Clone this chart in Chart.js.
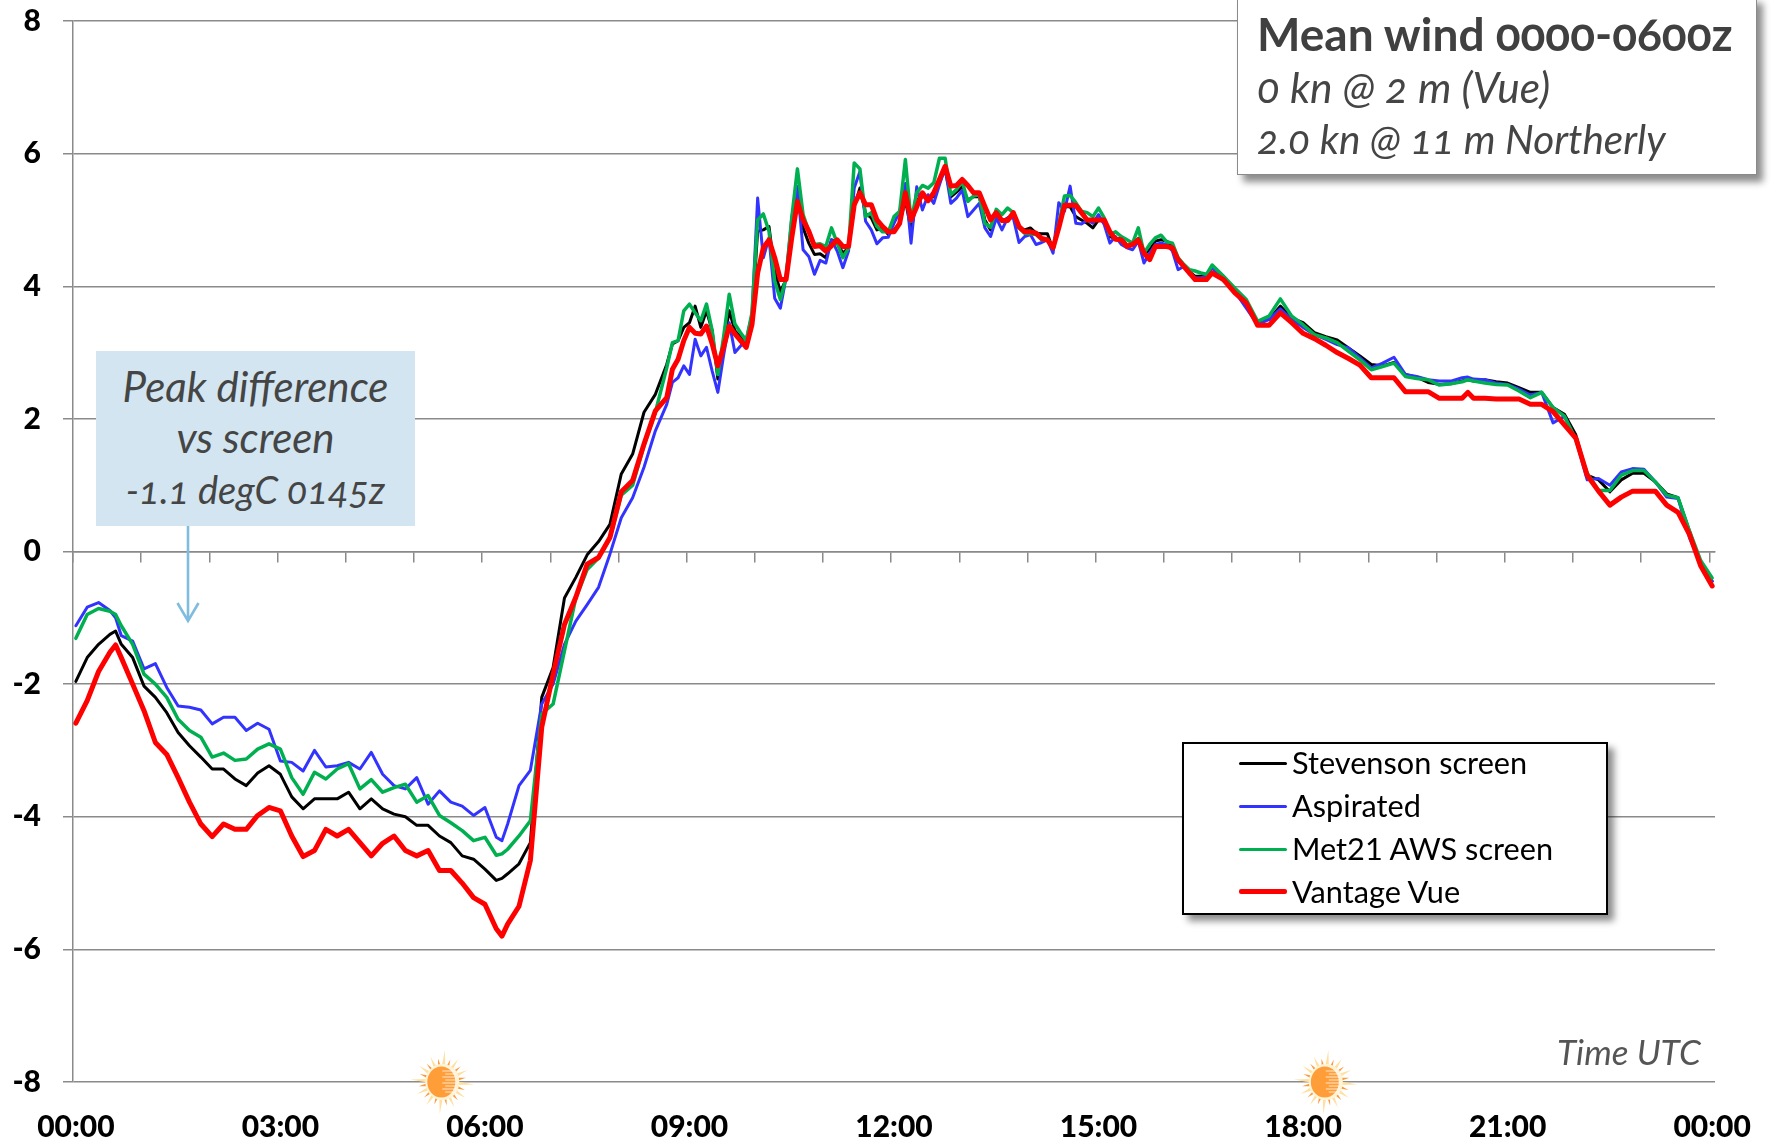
<!DOCTYPE html>
<html><head><meta charset="utf-8">
<script src="https://cdn.jsdelivr.net/npm/chart.js@4"></script>
<style>
html,body{margin:0;padding:0;background:#fff;overflow:hidden}
#wrap{position:relative;width:1774px;height:1143px;font-family:Lato,"Noto Sans",sans-serif}
canvas{position:absolute;left:0;top:0}
.t{position:absolute;white-space:nowrap;font-variant-numeric:oldstyle-nums;font-feature-settings:"onum" 1}
#titleBox{position:absolute;left:1237px;top:-4px;width:520px;height:179px;background:#fff;border:1.5px solid #8a8a8a;box-sizing:border-box;box-shadow:6px 7px 7px rgba(0,0,0,.45)}
#noteBox{position:absolute;left:96px;top:351px;width:319px;height:175px;background:#D2E5F1}
#legendBox{position:absolute;left:1182px;top:742px;width:426px;height:173px;background:#fff;border:2px solid #000;box-sizing:border-box;box-shadow:6px 6px 7px rgba(0,0,0,.45)}
.lg{position:absolute;left:1239px;width:48px;border-radius:2px}
.lt{position:absolute;left:1292px;font-size:30.7px;color:#000;white-space:nowrap;line-height:36px;font-family:Lato,sans-serif}
</style></head>
<body><div id="wrap">
<canvas id="c" width="1774" height="1143"></canvas>
<div id="noteBox"></div>
<svg style="position:absolute;left:170px;top:524px" width="36" height="100"><path d="M18 2V97M7.5 79L18 97L28.5 79" fill="none" stroke="#7FBCE0" stroke-width="2.6"/></svg>
<div class="t" style="left:96px;width:319px;text-align:center;top:361px;line-height:51px;font-style:italic;color:#454545;font-size:42px" id="noteText"></div>
<div id="titleBox"></div>
<div class="t" style="left:1257px;top:9px;font-size:46px;line-height:50px;font-weight:700;color:#404040" id="t1"></div>
<div class="t" style="left:1257px;top:62px;font-size:42.5px;line-height:50px;font-style:italic;color:#454545" id="t2"></div>
<div class="t" style="left:1257px;top:114px;font-size:40.5px;line-height:50px;font-style:italic;color:#454545" id="t3"></div>
<div class="t" style="left:1557px;top:1029px;font-size:35px;line-height:44px;font-style:italic;color:#555" id="axisNote"></div>
<div id="legendBox"></div>
<div id="legendItems"></div>
</div>
<script>
const seriesNames = ["Stevenson screen","Aspirated","Met21 AWS screen","Vantage Vue"];
const tickLabels = ["00:00","03:00","06:00","09:00","12:00","15:00","18:00","21:00","00:00"];
const yTicks = [-8,-6,-4,-2,0,2,4,6,8];
const titleLines = ["Mean wind 0000-0600z","0 kn @ 2 m (Vue)","2.0 kn @ 11 m Northerly"];
const noteLines = ["Peak difference","vs screen","-1.1 degC 0145z"];
const axisNote = "Time UTC";
const sunSteps = [64.5, 220];
// sample numbers, in 5-minute steps from 00:00
const sampleSteps = [
0,2,4,6,7,8,10,12,14,16,18,20,22,24,26,28,30,32,34,36,38,40,42,44,46,48,50,52,54,56,58,60,62,64,66,68,70,72,74,75,76,78,80,82,84,86,88,90,92,94,96,98,100,102,104,
105,106,107,108,109,110,111,112,113,114,115,116,117,118,119,
120,121,122,123,124,125,126,127,128,129,130,131,132,133,134,135,136,137,138,139,140,141,142,143,144,145,146,147,148,149,150,151,152,153,154,155,156,157,158,159,160,161,162,
163,164,165,166,167,168,169,170,171,172,173,174,175,176,177,178,179,180,181,182,183,184,185,186,187,188,189,190,191,192,193,194,195,196,197,198,199,200,
202,204,206,
208,210,212,214,216,218,220,222,224,226,228,230,232,234,236,238,240,242,244,245,246,248,250,
252,254,256,258,260,262,264,266,268,270,272,274,276,278,280,282,284,286,288];
const stevenson = [
-1.96,-1.6,-1.4,-1.25,-1.2,-1.4,-1.6,-2.03,-2.2,-2.43,-2.73,-2.93,-3.1,-3.28,-3.28,-3.43,-3.53,-3.34,-3.23,-3.36,-3.7,-3.88,-3.73,-3.73,-3.73,-3.63,-3.88,-3.73,-3.88,-3.96,-4.0,-4.13,-4.13,-4.29,-4.39,-4.59,-4.64,-4.79,-4.96,-4.93,-4.86,-4.71,-4.39,-2.2,-1.75,-0.7,-0.39,-0.05,0.15,0.41,1.17,1.47,2.1,2.37,2.82,
3.13,3.18,3.38,3.45,3.7,3.38,3.63,3.33,2.6,3.13,3.63,3.33,3.23,3.18,3.5,
4.83,4.85,4.9,4.23,3.92,4.1,4.9,5.5,4.88,4.65,4.48,4.49,4.43,4.7,4.65,4.5,4.58,5.2,5.48,5.1,5.03,4.85,4.88,4.78,4.85,4.95,5.3,4.85,5.3,5.35,5.35,5.35,5.6,5.75,5.35,5.42,5.5,5.3,5.35,5.35,5.0,4.85,5.05,
4.98,5.03,5.08,4.88,4.85,4.88,4.8,4.79,4.79,4.55,4.9,5.2,5.2,5.05,5.0,4.95,4.88,5.0,4.98,4.75,4.72,4.72,4.62,4.62,4.72,4.48,4.55,4.68,4.7,4.68,4.6,4.38,4.3,4.22,4.15,4.15,4.17,4.3,
4.15,3.93,3.72,
3.47,3.5,3.7,3.52,3.45,3.3,3.24,3.19,3.07,2.95,2.82,2.8,2.85,2.67,2.63,2.55,2.52,2.53,2.57,2.59,2.57,2.59,2.56,
2.54,2.47,2.4,2.4,2.17,2.07,1.76,1.15,1.08,0.9,1.08,1.18,1.18,1.05,0.87,0.81,0.31,-0.19,-0.45];
const aspirated = [
-1.12,-0.84,-0.77,-0.89,-1.0,-1.27,-1.35,-1.77,-1.69,-2.05,-2.33,-2.35,-2.39,-2.6,-2.5,-2.5,-2.7,-2.59,-2.68,-3.16,-3.18,-3.31,-3.0,-3.25,-3.23,-3.18,-3.28,-3.03,-3.36,-3.53,-3.58,-3.41,-3.81,-3.61,-3.78,-3.84,-3.98,-3.86,-4.31,-4.36,-4.11,-3.53,-3.3,-2.3,-2.0,-1.4,-1.05,-0.8,-0.54,-0.04,0.51,0.81,1.27,1.82,2.22,
2.55,2.62,2.8,2.67,3.2,2.95,3.08,2.72,2.4,2.95,3.45,3.0,3.1,3.2,3.57,
5.33,4.43,4.73,3.82,3.67,4.13,5.03,5.5,4.55,4.45,4.18,4.39,4.35,4.7,4.53,4.28,4.53,5.48,5.73,4.98,4.85,4.64,4.73,4.74,4.95,5.13,5.55,4.65,5.5,5.15,5.38,5.25,5.53,5.78,5.25,5.33,5.45,5.05,5.15,5.25,4.88,4.75,5.03,
4.85,5.03,5.03,4.66,4.75,4.78,4.63,4.66,4.7,4.5,5.26,5.13,5.51,4.95,4.94,5.0,4.95,5.08,4.93,4.65,4.75,4.63,4.58,4.55,4.68,4.35,4.5,4.63,4.65,4.63,4.53,4.25,4.3,4.18,4.13,4.13,4.15,4.28,
4.08,3.92,3.67,
3.42,3.5,3.66,3.5,3.38,3.27,3.2,3.12,3.07,2.92,2.77,2.84,2.93,2.67,2.64,2.59,2.57,2.57,2.62,2.63,2.6,2.59,2.54,
2.52,2.45,2.36,2.4,1.94,2.04,1.69,1.08,1.1,1.0,1.2,1.25,1.24,1.05,0.82,0.8,0.21,-0.19,-0.45];
const met21 = [
-1.31,-0.95,-0.86,-0.9,-0.95,-1.12,-1.4,-1.85,-2.0,-2.2,-2.53,-2.7,-2.8,-3.1,-3.04,-3.15,-3.13,-2.98,-2.9,-2.98,-3.41,-3.66,-3.33,-3.43,-3.28,-3.2,-3.58,-3.44,-3.63,-3.56,-3.51,-3.78,-3.68,-3.98,-4.09,-4.21,-4.36,-4.31,-4.58,-4.56,-4.49,-4.29,-4.06,-2.45,-2.3,-1.5,-0.7,-0.27,-0.1,0.2,0.85,1.0,1.6,2.1,2.77,
3.15,3.18,3.63,3.73,3.6,3.48,3.73,3.33,2.67,3.23,3.88,3.43,3.3,3.18,3.6,
5.0,5.09,4.83,4.08,3.8,4.13,5.03,5.77,5.08,4.83,4.63,4.64,4.6,4.88,4.65,4.43,4.58,5.86,5.77,5.05,5.11,4.9,4.82,4.82,5.05,5.13,5.91,4.98,5.41,5.52,5.48,5.56,5.93,5.93,5.38,5.46,5.58,5.28,5.36,5.38,4.95,4.89,5.16,
5.08,5.18,5.11,4.88,4.8,4.79,4.78,4.7,4.71,4.58,4.93,5.36,5.37,5.26,5.13,5.11,5.05,5.18,5.03,4.78,4.82,4.75,4.7,4.65,4.88,4.5,4.63,4.73,4.77,4.67,4.65,4.43,4.33,4.25,4.23,4.2,4.18,4.32,
4.15,3.97,3.8,
3.47,3.55,3.81,3.55,3.42,3.27,3.22,3.15,3.02,2.89,2.74,2.79,2.84,2.64,2.61,2.59,2.51,2.53,2.56,2.59,2.57,2.54,2.52,
2.51,2.42,2.32,2.4,2.17,2.04,1.69,1.18,0.92,0.92,1.15,1.22,1.22,1.05,0.85,0.81,0.31,-0.14,-0.4];
const vantageVue = [
-2.59,-2.25,-1.81,-1.52,-1.41,-1.6,-2.0,-2.4,-2.88,-3.06,-3.41,-3.78,-4.11,-4.3,-4.11,-4.19,-4.19,-3.98,-3.86,-3.91,-4.29,-4.6,-4.51,-4.19,-4.29,-4.19,-4.39,-4.59,-4.4,-4.29,-4.51,-4.59,-4.51,-4.81,-4.81,-5.0,-5.22,-5.32,-5.69,-5.8,-5.62,-5.35,-4.66,-2.65,-1.85,-1.1,-0.69,-0.19,-0.09,0.21,0.9,1.07,1.62,2.12,2.32,
2.75,2.9,3.18,3.38,3.29,3.28,3.4,3.13,2.8,3.08,3.4,3.28,3.18,3.08,3.42,
4.2,4.58,4.7,4.43,4.1,4.1,4.73,5.28,5.0,4.83,4.6,4.61,4.53,4.61,4.7,4.6,4.6,5.23,5.41,5.23,5.23,5.0,4.9,4.82,4.82,4.95,5.41,5.0,5.2,5.41,5.29,5.41,5.61,5.81,5.51,5.52,5.61,5.52,5.41,5.41,5.2,5.0,5.11,
4.99,4.99,5.11,4.9,4.82,4.82,4.8,4.72,4.7,4.58,4.88,5.22,5.22,5.22,5.11,5.0,5.0,5.0,5.0,4.82,4.71,4.7,4.6,4.63,4.7,4.5,4.4,4.6,4.6,4.6,4.58,4.4,4.3,4.2,4.1,4.1,4.1,4.2,
4.1,3.9,3.75,
3.41,3.41,3.6,3.45,3.29,3.21,3.11,3.0,2.91,2.81,2.62,2.62,2.62,2.41,2.41,2.41,2.31,2.31,2.31,2.4,2.31,2.31,2.3,
2.3,2.3,2.22,2.22,2.11,1.91,1.71,1.15,0.91,0.7,0.82,0.91,0.91,0.91,0.7,0.59,0.26,-0.22,-0.52];

const seriesValues = [stevenson, aspirated, met21, vantageVue];
const seriesColors = ["#000000","#3333FF","#00B050","#FF0000"];
const seriesWidths = [3,3,3.5,5];
seriesValues.forEach((s,i)=>{ if(s.length!==sampleSteps.length) throw new Error(seriesNames[i]+" has "+s.length+" values, expected "+sampleSteps.length); });

const GRID = "#8A8A8A";
const boldFont = {family:"Lato", size:30, weight:"900"};
const noPad = s => { s.paddingLeft = s.paddingRight = s.paddingTop = s.paddingBottom = 0; };

const sunPlugin = {
  id:"suns",
  afterDatasetsDraw(chart){
    const {ctx, scales:{x,y}} = chart;
    sunSteps.forEach(step=>{
      const cx = x.getPixelForValue(step), cy = y.getPixelForValue(-8);
      ctx.save();
      ctx.translate(cx,cy);
      const rays = 24;
      for(let k=0;k<rays;k++){
        const a = k/rays*Math.PI*2 + 0.08;
        const long = k%2===0;
        const R = long ? (k%6===0 ? 32 : 28) : 24;
        const w = long ? 0.14 : 0.12;
        ctx.fillStyle = long ? "#FFE0A0" : "#FB9A3C";
        ctx.beginPath();
        ctx.moveTo(Math.cos(a-w)*14,Math.sin(a-w)*14);
        ctx.lineTo(Math.cos(a)*R,Math.sin(a)*R);
        ctx.lineTo(Math.cos(a+w)*14,Math.sin(a+w)*14);
        ctx.closePath(); ctx.fill();
      }
      ctx.fillStyle="#FFF3D6";
      ctx.beginPath(); ctx.ellipse(0,0,17,18,0,0,Math.PI*2); ctx.fill();
      ctx.fillStyle="#FF9E38";
      ctx.beginPath(); ctx.ellipse(-1,0,14,15.5,0,0,Math.PI*2); ctx.fill();
      ctx.strokeStyle="rgba(255,255,255,.75)"; ctx.lineWidth=1;
      [-11,-8,-5,-2,1,4,7,10].forEach((yy,n)=>{
        ctx.beginPath(); ctx.moveTo(n%2?3:0,yy); ctx.lineTo(14,yy); ctx.stroke();
      });
      ctx.restore();
    });
  }
};

new Chart(document.getElementById("c"),{
  type:"line",
  plugins:[sunPlugin],
  data:{
    datasets: seriesNames.map((name,i)=>({
      label:name,
      data: sampleSteps.map((s,j)=>({x:s,y:seriesValues[i][j]})),
      borderColor:seriesColors[i],
      backgroundColor:seriesColors[i],
      borderWidth:seriesWidths[i],
      pointRadius:0,
      tension:0,
      fill:false,
      order:seriesNames.length-i,
      borderJoinStyle:"round",
      borderCapStyle:"round",
      clip:false
    }))
  },
  options:{
    responsive:false,
    animation:false,
    events:[],
    layout:{padding:{top:21,right:59,bottom:0,left:0}},
    plugins:{legend:{display:false},title:{display:false},tooltip:{enabled:false}},
    scales:{
      x:{
        type:"linear",axis:"x",position:"bottom",min:-0.5,max:288.5,
        grid:{display:false,drawTicks:false},
        border:{display:false},
        afterBuildTicks(s){ s.ticks = tickLabels.map((_,k)=>({value:k*36})); },
        afterFit(s){ s.height = 61; noPad(s); },
        ticks:{
          autoSkip:false,maxRotation:0,minRotation:0,padding:27,color:"#000",font:boldFont,
          callback(v){ return tickLabels[Math.round(v/36)]; }
        }
      },
      hourMarks:{
        type:"linear",axis:"x",position:{y:0},min:-0.5,max:288.5,
        grid:{display:true,drawOnChartArea:false,drawTicks:true,tickLength:10,color:GRID,lineWidth:1.5},
        border:{display:true,color:GRID,width:1.5},
        afterBuildTicks(s){ s.ticks = Array.from({length:25},(_,k)=>({value:-0.5+k*12})); },
        afterFit(s){ s.height = 0; noPad(s); },
        ticks:{display:false,autoSkip:false}
      },
      y:{
        type:"linear",axis:"y",min:-8,max:8,
        grid:{color:GRID,lineWidth:1.5,tickLength:10,drawTicks:true},
        border:{display:true,color:GRID,width:1.5},
        afterBuildTicks(s){ s.ticks = yTicks.map(v=>({value:v})); },
        afterFit(s){ s.width = 73; noPad(s); },
        ticks:{padding:22,color:"#000",font:boldFont,callback:v=>String(v)}
      }
    }
  }
});

const noteSizes = [42,42,38];
document.getElementById("noteText").innerHTML = noteLines.map((l,i)=>'<span style="font-size:'+noteSizes[i]+'px">'+l+'</span>').join("<br>");
["t1","t2","t3"].forEach((id,i)=>document.getElementById(id).textContent = titleLines[i]);
document.getElementById("axisNote").textContent = axisNote;
const lgY = [763,806,849,891];
const lgTextY = [745,788,831,874];
const lgHolder = document.getElementById("legendItems");
seriesNames.forEach((n,i)=>{
  const l=document.createElement("div"); l.className="lg";
  const h = i===3?5:3;
  l.style.top=(lgY[i]-h/2)+"px"; l.style.height=h+"px"; l.style.background=seriesColors[i];
  lgHolder.appendChild(l);
  const t=document.createElement("div"); t.className="lt"; t.textContent=n; t.style.top=lgTextY[i]+"px";
  lgHolder.appendChild(t);
});
</script>
</body></html>
